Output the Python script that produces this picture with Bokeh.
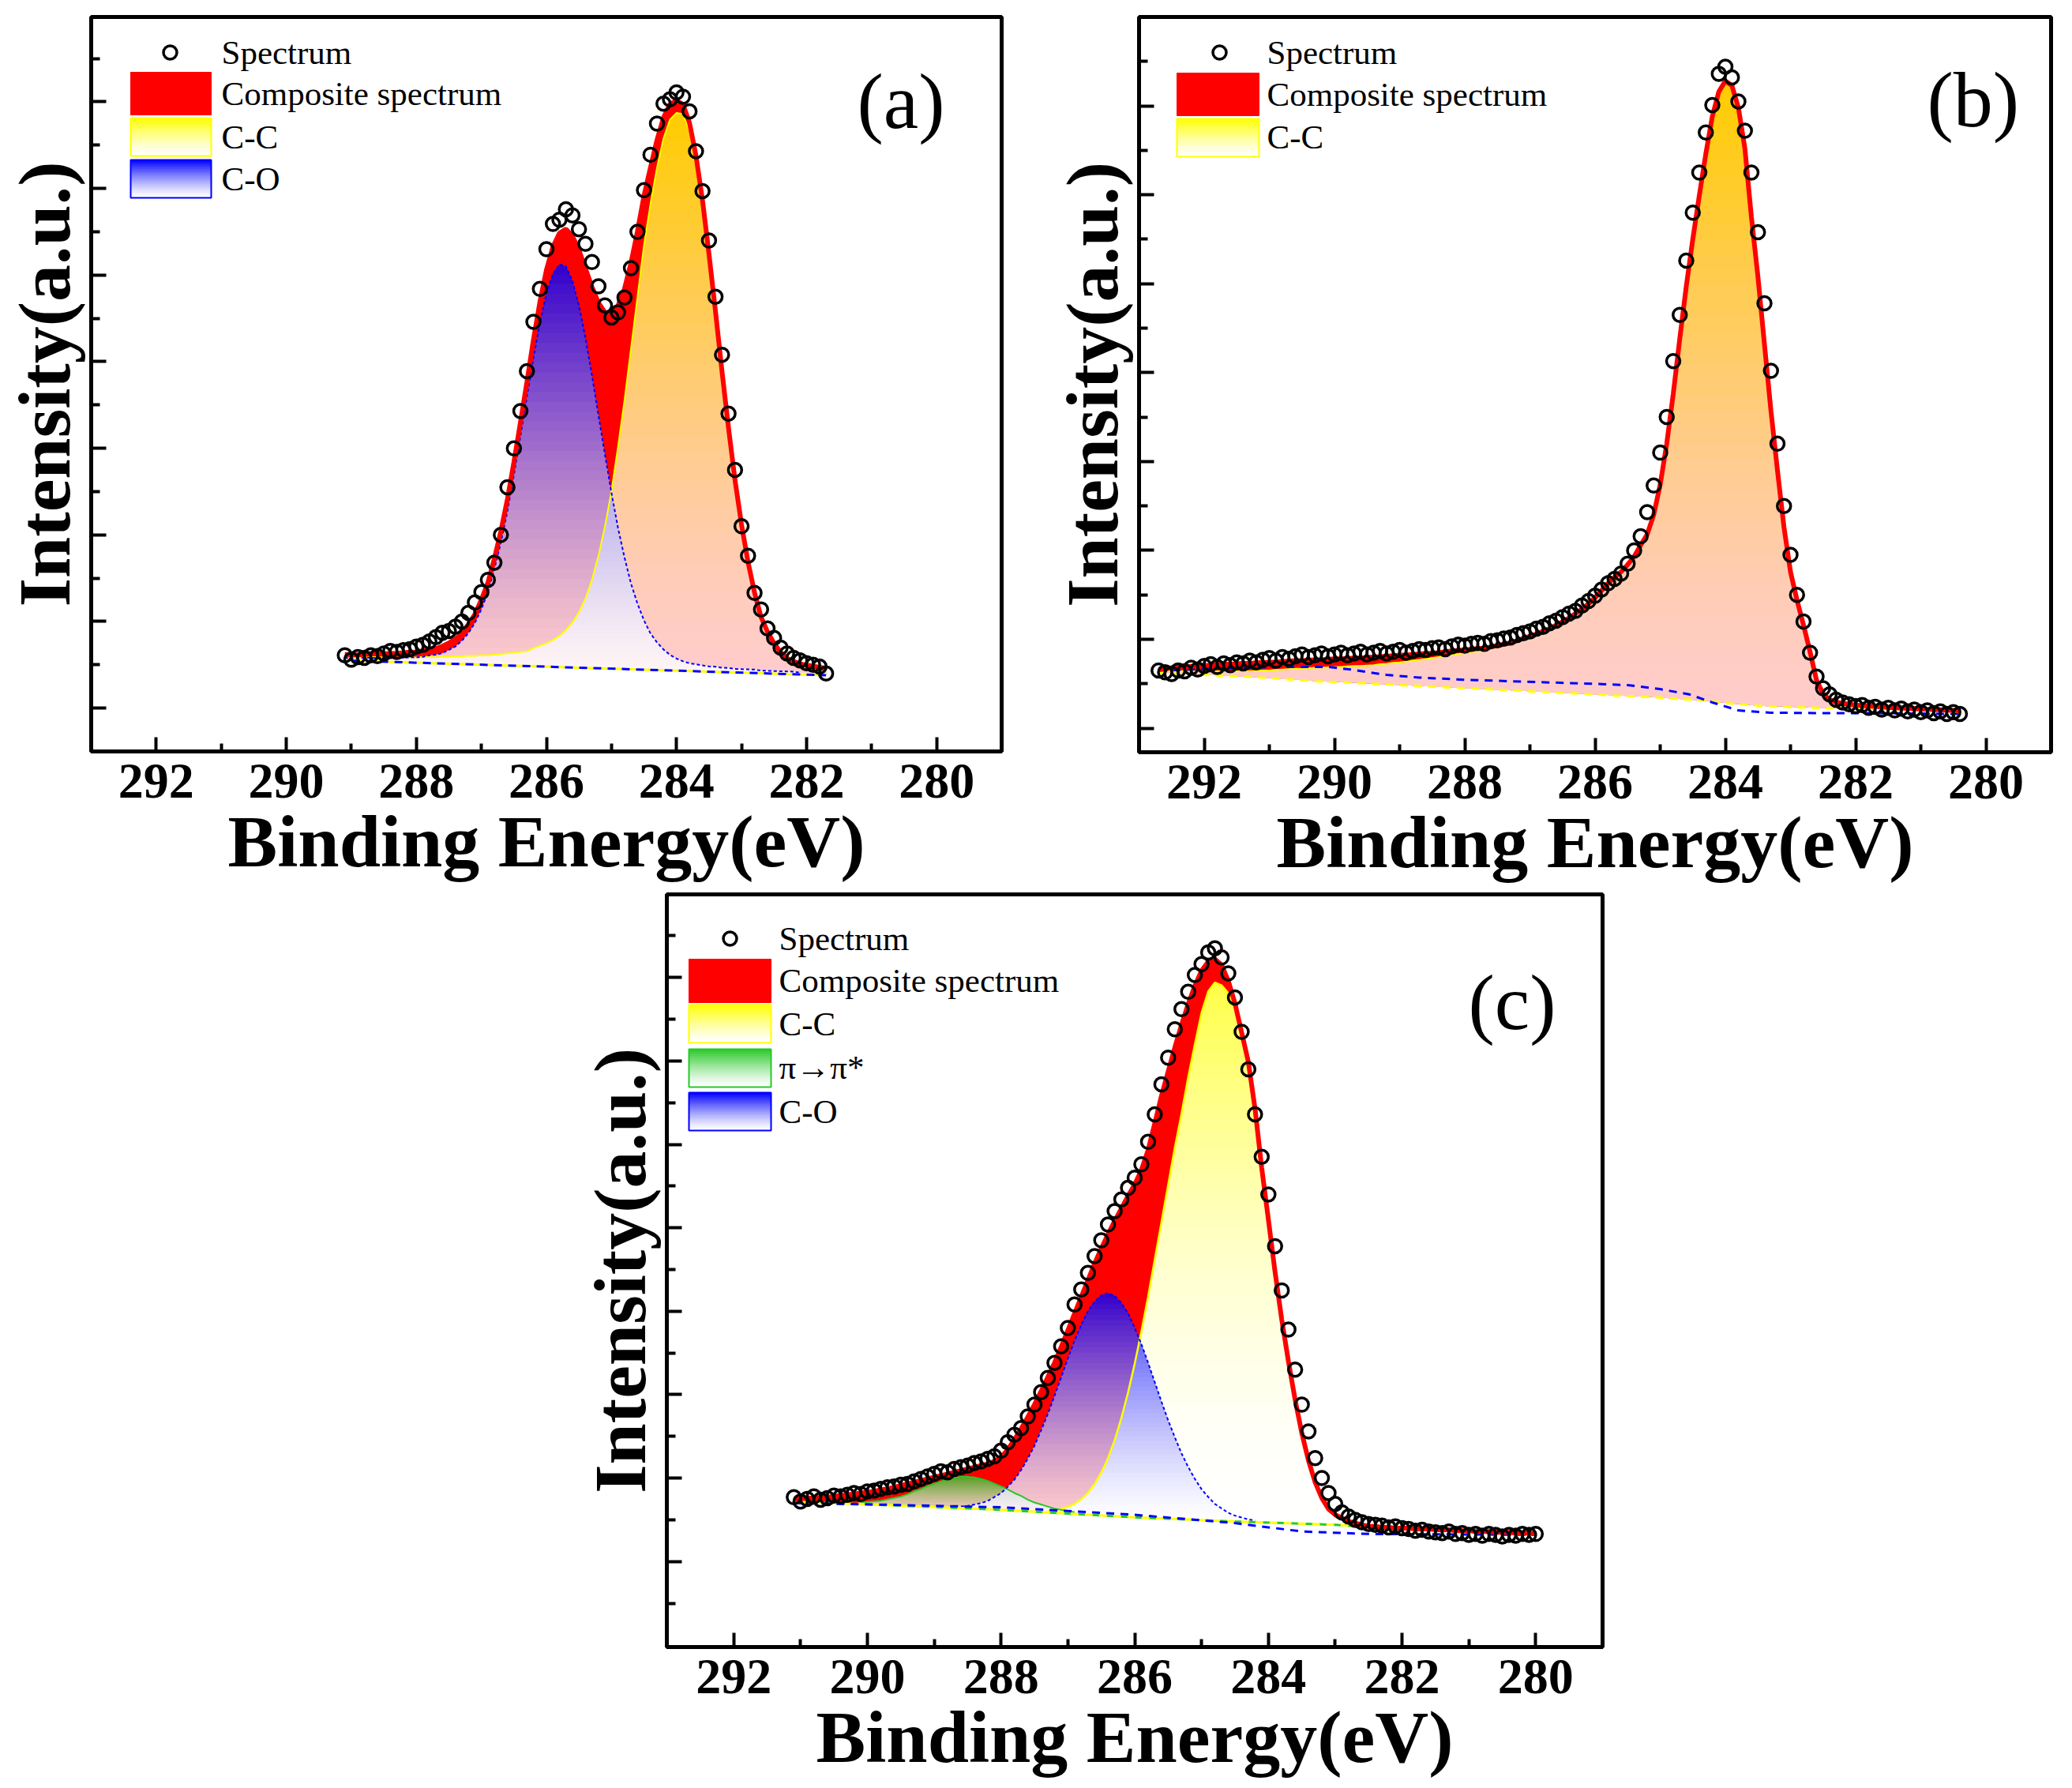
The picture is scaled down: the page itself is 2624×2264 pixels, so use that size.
import numpy as np
from bokeh.plotting import figure
from bokeh.models import Range1d, FixedTicker
from bokeh.layouts import column, row
from bokeh.embed import file_html
from bokeh.resources import INLINE
from bokeh.core.properties import value

FONT = "Liberation Serif"
X_START, X_END = 293.0, 279.0
X_MAJOR = [280, 282, 284, 286, 288, 290, 292]
X_MINOR = [279, 281, 283, 285, 287, 289, 291, 293]
Y_MAJOR = [0, 10, 20, 30, 40, 50, 60, 70]
Y_MINOR = [-5, 5, 15, 25, 35, 45, 55, 65, 75]

# ======================= panel (a) =======================
a_start = 289.1
a_spectrum = [6.1, 5.6, 5.9, 5.8, 6.1, 6.0, 6.3, 6.6, 6.5, 6.7,
              6.8, 7.1, 7.3, 7.7, 8.2, 8.7, 8.9, 9.4, 10.0, 11.0,
              12.2, 13.4, 14.8, 16.8, 20.0, 25.5, 30.0, 34.3, 38.9, 44.6,
              48.4, 53.0, 55.9, 56.4, 57.6, 56.9, 55.3, 53.6, 51.5, 48.7,
              46.5, 45.1, 45.7, 47.4, 50.8, 55.0, 59.8, 63.9, 67.5, 69.8,
              70.3, 71.1, 70.6, 68.9, 64.3, 59.7, 54.0, 47.5, 40.8, 34.0,
              27.5, 21.0, 17.6, 13.3, 11.4, 9.2, 8.1, 7.0, 6.3, 5.8,
              5.5, 5.2, 5.0, 4.8, 4.0]
a_cc = [0.4, 0.4, 0.4, 0.4, 0.5, 0.5, 0.5, 0.5, 0.5, 0.6,
        0.6, 0.6, 0.7, 0.7, 0.7, 0.8, 0.8, 0.85, 0.9, 1.0,
        1.0, 1.1, 1.1, 1.2, 1.3, 1.4, 1.5, 1.6, 1.7, 2.1,
        2.4, 2.7, 3.1, 3.6, 4.3, 5.2, 6.4, 8.0, 10.2, 13.0,
        16.4, 20.5, 25.6, 31.0, 37.0, 43.0, 49.0, 53.8, 58.0, 61.4,
        63.6, 64.4, 64.3, 62.4, 58.7, 53.7, 47.6, 41.0, 34.2, 27.7,
        21.8, 16.7, 12.4, 8.9, 6.2, 4.5, 3.2, 2.2, 1.5, 1.2,
        1.0, 0.9, 0.8, 0.7, 0.6]
a_co = [0.3, 0.3, 0.3, 0.4, 0.4, 0.4, 0.4, 0.5, 0.5, 0.5,
        0.6, 0.6, 0.7, 0.9, 1.0, 1.2, 1.6, 2.0, 2.7, 3.6,
        4.8, 6.4, 8.4, 11.1, 14.2, 17.8, 22.0, 26.5, 31.1, 35.6,
        39.7, 43.1, 45.4, 46.5, 46.3, 44.6, 41.8, 38.1, 33.8, 29.2,
        24.7, 20.3, 16.3, 12.9, 9.9, 7.6, 5.7, 4.2, 3.2, 2.4,
        1.8, 1.4, 1.1, 0.9, 0.8, 0.7, 0.6, 0.6, 0.5, 0.5,
        0.4, 0.4, 0.4, 0.4, 0.3, 0.3, 0.3, 0.3, 0.3, 0.3,
        0.2, 0.2, 0.2, 0.2, 0.2]
a_base_x = [289.1, 281.7]
a_base_y = [5.5, 3.8]
A_Y = (-5.0, 79.8)

# ======================= panel (b) =======================
b_start = 292.7
b_spectrum = [6.5, 6.3, 6.1, 6.5, 6.4, 6.8, 6.6, 7.0, 7.2, 6.9,
              7.3, 7.1, 7.4, 7.3, 7.6, 7.4, 7.7, 7.9, 7.6, 8.0,
              7.8, 8.1, 8.3, 8.0, 8.2, 8.4, 8.1, 8.3, 8.5, 8.2,
              8.4, 8.6, 8.3, 8.5, 8.7, 8.4, 8.6, 8.8, 8.5, 8.7,
              8.9, 8.8, 9.0, 9.1, 8.9, 9.2, 9.4, 9.3, 9.5, 9.6,
              9.5, 9.8, 9.9, 10.1, 10.2, 10.5, 10.7, 10.9, 11.2, 11.4,
              11.8, 12.1, 12.5, 12.9, 13.2, 13.8, 14.3, 14.9, 15.6, 16.3,
              16.8, 17.4, 18.5, 20.0, 21.6, 24.3, 27.3, 31.0, 35.0, 41.3,
              46.5, 52.6, 58.0, 62.5, 67.0, 70.1, 73.6, 74.4, 73.2, 70.5,
              67.2, 62.5, 55.8, 47.8, 40.2, 32.0, 25.0, 19.5, 15.0, 12.0,
              8.5, 5.8, 4.5, 3.8, 3.2, 2.9, 2.7, 2.5, 2.6, 2.3,
              2.4, 2.1, 2.3, 2.0, 2.2, 1.9, 2.1, 1.8, 2.0, 1.7,
              1.9, 1.6, 1.8, 1.6]
b_composite = [6.6, 6.7, 6.8, 6.85, 6.9, 6.95, 7.0, 7.05, 7.1, 7.15,
               7.2, 7.2, 7.25, 7.3, 7.3, 7.35, 7.4, 7.4, 7.45, 7.5,
               7.55, 7.6, 7.6, 7.65, 7.7, 7.7, 7.75, 7.8, 7.8, 7.85,
               7.9, 7.9, 7.95, 8.0, 8.05, 8.1, 8.15, 8.2, 8.25, 8.3,
               8.35, 8.4, 8.45, 8.5, 8.6, 8.7, 8.75, 8.8, 8.9, 8.95,
               9.0, 9.15, 9.3, 9.45, 9.6, 9.85, 10.1, 10.35, 10.6, 10.9,
               11.2, 11.6, 12.0, 12.4, 12.9, 13.4, 14.0, 14.7, 15.5, 16.3,
               17.0, 17.6, 18.4, 19.3, 20.6, 21.8, 24.0, 27.4, 32.0, 37.6,
               43.8, 49.7, 55.0, 59.9, 64.6, 68.8, 71.6, 72.8, 72.3, 69.8,
               65.2, 57.5, 50.8, 43.2, 35.7, 29.0, 22.6, 17.6, 14.4, 11.6,
               8.6, 5.4, 3.9, 3.2, 2.95, 2.8, 2.7, 2.6, 2.55, 2.5,
               2.45, 2.4, 2.35, 2.3, 2.27, 2.23, 2.2, 2.17, 2.13, 2.1,
               2.07, 2.03, 2.0, 1.97]
b_extra = [0.1, 0.2, 0.3, 0.4, 0.5, 0.55, 0.6, 0.7, 0.7, 0.75,
           0.8, 0.8, 0.85, 0.85, 0.9, 0.9, 0.9, 0.9, 0.9, 0.9,
           0.9, 0.9, 0.9, 0.9, 0.9, 0.9, 0.9, 0.9, 0.9, 0.9,
           0.9, 0.9, 0.9, 0.9, 0.85, 0.85, 0.8, 0.8, 0.75, 0.7,
           0.65, 0.6, 0.55, 0.5, 0.45, 0.4, 0.4, 0.35, 0.3, 0.3,
           0.25, 0.2, 0.2, 0.15, 0.15, 0.1, 0.1, 0.05, 0.05, 0.0,
           0.0, 0.0, 0.0]
b_base_cc_x = [292.7, 292.0, 291.1, 290.3, 289.4, 288.55, 287.7, 286.85, 286.0,
               285.15, 284.3, 283.95, 283.45, 282.6, 281.75, 280.4]
b_base_cc_y = [6.2, 6.0, 5.7, 5.3, 5.0, 4.7, 4.4, 4.1, 3.8, 3.5, 3.1, 2.8, 2.5, 2.3, 2.2, 1.9]
b_base2_x = [292.7, 290.8, 290.1, 289.75, 289.2, 288.7, 288.0, 287.35, 286.7, 286.0,
             285.5, 285.0, 284.55, 284.2, 283.8, 283.3, 282.6, 281.7, 280.4]
b_base2_y = [6.5, 6.9, 6.9, 6.6, 6.0, 5.7, 5.45, 5.3, 5.15, 5.0,
             4.85, 4.4, 3.8, 2.9, 2.0, 1.75, 1.7, 1.7, 1.6]
B_Y = (-2.7, 80.0)

# ======================= panel (c) =======================
c_start = 291.1
c_spectrum = [7.7, 7.2, 7.5, 7.8, 7.4, 7.6, 7.9, 7.8, 8.0, 8.2,
              8.1, 8.4, 8.5, 8.7, 8.9, 9.0, 9.2, 9.3, 9.6, 9.9,
              10.2, 10.5, 10.8, 10.7, 11.1, 11.3, 11.5, 11.8, 12.0, 12.3,
              12.6, 13.3, 14.3, 15.2, 16.0, 17.4, 18.8, 20.3, 22.0, 23.8,
              25.8, 28.0, 30.8, 32.6, 34.6, 36.6, 38.5, 40.4, 42.0, 43.4,
              44.8, 46.0, 47.6, 50.3, 53.6, 57.2, 60.4, 63.8, 66.2, 68.3,
              70.3, 71.6, 73.0, 73.5, 72.4, 70.5, 67.6, 63.5, 59.0, 53.6,
              48.5, 44.0, 37.8, 32.5, 27.8, 23.0, 18.8, 15.6, 12.4, 10.0,
              8.2, 6.9, 5.9, 5.4, 5.0, 4.7, 4.5, 4.4, 4.3, 4.1,
              4.2, 4.0, 3.9, 3.7, 3.8, 3.6, 3.5, 3.4, 3.6, 3.3,
              3.4, 3.2, 3.3, 3.1, 3.3, 3.2, 3.0, 3.2, 3.1, 3.3,
              3.2, 3.3]
c_composite = [7.5, 7.5, 7.6, 7.6, 7.7, 7.7, 7.8, 7.9, 8.0, 8.1,
               8.2, 8.3, 8.4, 8.6, 8.7, 8.9, 9.1, 9.3, 9.5, 9.7,
               9.9, 10.1, 10.3, 10.5, 10.7, 10.9, 11.1, 11.3, 11.5, 11.7,
               12.0, 12.5, 13.4, 14.6, 15.9, 17.3, 18.8, 20.4, 22.1, 23.8,
               25.7, 27.7, 29.7, 31.7, 33.7, 35.7, 37.5, 39.2, 40.8, 42.3,
               43.8, 45.2, 46.9, 49.3, 52.5, 55.8, 58.7, 61.6, 64.3, 66.8,
               69.0, 70.8, 71.9, 72.2, 71.5, 69.6, 66.9, 63.4, 59.9, 54.3,
               47.2, 41.0, 34.7, 29.0, 24.0, 19.4, 15.4, 12.1, 9.5, 7.6,
               6.3, 5.6, 5.2, 4.8, 4.6, 4.4, 4.2, 4.2, 4.1, 4.1,
               4.0, 4.0, 4.0, 3.9, 3.9, 3.9, 3.8, 3.8, 3.8, 3.7,
               3.7, 3.7, 3.6, 3.6, 3.6, 3.5, 3.5, 3.5, 3.4, 3.4,
               3.4, 3.3]
c_cc = [0.0] * 37 + [0.1, 0.2, 0.3, 0.5, 0.8, 1.2, 1.8, 2.6, 3.7, 5.1,
                     6.9, 9.1, 11.8, 14.9, 18.4, 22.3, 26.5, 31.0, 35.5, 40.0,
                     44.5, 48.6, 53.0, 57.0, 60.8, 63.4, 64.5, 64.2, 63.3, 61.8,
                     58.6, 54.9, 49.5, 42.6, 36.4, 30.1, 24.4, 19.4, 14.9, 10.9,
                     7.6, 5.0, 3.1, 1.9, 1.2, 0.8, 0.5, 0.3, 0.2, 0.1] + [0.0] * 25
c_pi = [0.0] * 8 + [0.1, 0.1, 0.2, 0.3, 0.4, 0.5, 0.7, 0.9, 1.1, 1.4,
                    1.8, 2.1, 2.5, 2.8, 3.1, 3.4, 3.6, 3.75, 3.8, 3.75,
                    3.6, 3.4, 3.1, 2.8, 2.5, 2.1, 1.8, 1.4, 1.1, 0.9,
                    0.7, 0.5, 0.4, 0.3, 0.2, 0.1, 0.1] + [0.0] * 67
c_co = [0.0] * 23 + [0.1, 0.1, 0.2, 0.3, 0.5, 0.7, 1.0, 1.5, 2.0, 2.8,
                     3.7, 4.9, 6.3, 7.9, 9.8, 11.8, 14.0, 16.3, 18.6, 20.8,
                     22.7, 24.4, 25.6, 26.4, 26.7, 26.4, 25.6, 24.4, 22.7, 20.8,
                     18.6, 16.3, 14.0, 11.8, 9.8, 7.9, 6.3, 4.9, 3.7, 2.8,
                     2.0, 1.5, 1.0, 0.7, 0.5, 0.3, 0.2, 0.1, 0.1] + [0.0] * 40
c_base_x = [291.1, 288.0, 286.0, 284.5, 283.0, 282.6, 280.0]
c_base_y = [7.2, 6.2, 5.3, 4.8, 4.4, 4.2, 3.3]
c_base2_x = [291.1, 289.7, 288.0, 286.0, 284.5, 283.5, 282.5, 280.0]
c_base2_y = [7.0, 6.8, 6.5, 5.6, 4.6, 3.6, 3.3, 3.2]
C_Y = (-10.25, 79.96)

# ======================= helpers =======================
RED = (255, 0, 0)
YELLOW = (255, 255, 0)
BLUE = (0, 0, 255)
GREEN = (40, 200, 40)
WHITE = (255, 255, 255)


def hexc(c):
    return "#%02x%02x%02x" % tuple(int(round(min(255, max(0, v)))) for v in c)


def blend(top, under, a):
    return tuple(a * t + (1 - a) * u for t, u in zip(top, under))


def ramp(rgb, bot, top, gamma=1.3):
    span = max(top - bot, 1e-6)

    def f(y):
        t = min(1.0, max(0.0, (y - bot) / span)) ** gamma
        return tuple(255 * (1 - t) + c * t for c in rgb)
    return f


def energies(start, n):
    return np.round(start - 0.1 * np.arange(n), 1)


def on_grid(kx, ky, x):
    kx = np.asarray(kx, float)
    ky = np.asarray(ky, float)
    o = np.argsort(kx)
    return np.interp(x, kx[o], ky[o])


def dense(x, arrays, step=0.01):
    # subdivide the drawn polylines so that the colour bands follow them exactly
    xa = x[::-1]
    xf = np.arange(xa[0], xa[-1] + step / 2, step)
    return xf, [np.interp(xf, xa, np.asarray(a, float)[::-1]) for a in arrays]


def bands(p, xf, lo, hi, color_of, n=40):
    thick = hi - lo
    m = thick > 1e-6
    if not m.any():
        return
    bot, top = lo[m].min(), hi[m].max()
    edges = np.linspace(bot, top, n + 1)
    eps = 0.6 * (top - bot) / n
    for k in range(n):
        a0, a1 = edges[k], edges[k + 1]
        lower = np.maximum(lo, a0)
        upper = np.maximum(np.minimum(hi, a1 + eps), lower)
        idx = np.nonzero(upper - lower > 1e-6)[0]
        if idx.size == 0:
            continue
        i0, i1 = max(idx[0] - 1, 0), min(idx[-1] + 2, len(xf))
        p.varea(x=xf[i0:i1].tolist(), y1=lower[i0:i1].tolist(), y2=upper[i0:i1].tolist(),
                fill_color=hexc(color_of(0.5 * (a0 + a1))), fill_alpha=1.0)


def outline(p, x, yabs, height, rgb, width, dash="solid"):
    h = np.asarray(height)
    idx = np.nonzero(h > 0.25)[0]
    i0, i1 = max(idx[0] - 1, 0), min(idx[-1] + 2, len(x))
    p.line(x[i0:i1], yabs[i0:i1], line_color=hexc(rgb), line_width=width, line_dash=dash)


def make_panel(yr, fw, fh, borders):
    l, r, t, b = borders
    p = figure(frame_width=fw, frame_height=fh,
               x_range=Range1d(X_START, X_END), y_range=Range1d(*yr),
               output_backend="svg", toolbar_location=None,
               min_border_left=l, min_border_right=r, min_border_top=t, min_border_bottom=b,
               background_fill_color="white", border_fill_color="white")
    p.xgrid.visible = False
    p.ygrid.visible = False
    p.outline_line_color = "black"
    p.outline_line_width = 5
    p.outline_line_alpha = 1.0
    xa, ya = p.xaxis[0], p.yaxis[0]
    xa.ticker = FixedTicker(ticks=X_MAJOR, minor_ticks=X_MINOR)
    ya.ticker = FixedTicker(ticks=Y_MAJOR, minor_ticks=Y_MINOR)
    for ax in (xa, ya):
        ax.axis_line_color = "black"
        ax.axis_line_width = 5
        ax.major_tick_line_color = "black"
        ax.major_tick_line_width = 4
        ax.minor_tick_line_color = "black"
        ax.minor_tick_line_width = 4
        ax.major_tick_out = 0
        ax.minor_tick_out = 0
        ax.axis_label_text_font = FONT
        ax.axis_label_text_font_style = "bold"
        ax.axis_label_text_font_size = "94px"
        ax.axis_label_text_color = "black"
        ax.major_label_text_font = FONT
        ax.major_label_text_font_style = "bold"
        ax.major_label_text_color = "black"
    xa.major_tick_in = 18
    xa.minor_tick_in = 10
    ya.major_tick_in = 19
    ya.minor_tick_in = 11
    xa.major_label_text_font_size = "64px"
    xa.major_label_standoff = 16
    xa.axis_label = "Binding Energy(eV)"
    xa.axis_label_standoff = 0
    ya.major_label_text_font_size = "1px"
    ya.major_label_text_alpha = 0.0
    ya.major_label_standoff = 0
    ya.axis_label = "Intensity(a.u.)"
    ya.axis_label_standoff = 8
    return p


def to_data(geom, dx, dy):
    fw, fh, y0, y1 = geom
    return float(X_START - dx * (X_START - X_END) / fw), float(y1 - dy * (y1 - y0) / fh)


def add_legend(p, geom, circle_at, swatch_x, text_dx, rows):
    cx, cy = to_data(geom, *circle_at)
    p.scatter([cx], [cy], marker="circle", size=17, line_color="black", line_width=3.5, fill_color=None)
    tx, ty, tt = [], [], []
    for label, rgb, dy0, dy1, row_dy in rows:
        if rgb is not None:
            xl, yt = to_data(geom, swatch_x[0], dy0)
            xr, yb = to_data(geom, swatch_x[1], dy1)
            if rgb == RED:
                p.quad(left=[xl], right=[xr], top=[yt], bottom=[yb], fill_color="#ff0000", line_color="#ff0000")
            else:
                m = 16
                hs = np.linspace(yt, yb, m + 1)
                step = (yt - yb) / m
                g = ramp(rgb, 0.0, 1.0)
                for i in range(m):
                    t = 1.0 - (i + 0.5) / m
                    bot = hs[i + 1] - (0.4 * step if i < m - 1 else 0.0)
                    p.quad(left=[xl], right=[xr], top=[float(hs[i])], bottom=[float(bot)],
                           fill_color=hexc(g(t)), line_color=None)
                p.quad(left=[xl], right=[xr], top=[yt], bottom=[yb], fill_color=None,
                       line_color=hexc(rgb), line_width=2)
        x, y = to_data(geom, text_dx, row_dy)
        tx.append(x)
        ty.append(y)
        tt.append(label)
    p.text(x=tx, y=ty, text=tt, text_font=value(FONT), text_font_size=value("43px"),
           text_align=value("left"), text_baseline=value("middle"), text_color="black")


def add_tag(p, geom, dx, dy, s):
    # same text settings as the legend entries, only larger; left edge placed so the letter is centred at dx
    x, y = to_data(geom, dx - 55, dy)
    p.text(x=[x], y=[y], text=[s], text_font=value(FONT), text_font_size=value("100px"),
           text_align=value("left"), text_baseline=value("middle"), text_color="black")


def spectrum(p, x, y):
    p.scatter(x, y, marker="circle", size=17, line_color="black", line_width=3.5, fill_color=None)


# ======================= build (a) =======================
xa_ = energies(a_start, len(a_spectrum))
a_base = on_grid(a_base_x, a_base_y, xa_)
a_cc_abs = a_base + np.asarray(a_cc)
a_co_abs = a_base + np.asarray(a_co)
a_comp = a_base + np.asarray(a_cc) + np.asarray(a_co)

GA = (1153, 930) + A_Y
pa = make_panel(A_Y, 1153, 930, (113, 59, 19, 170))
xf, (bf, ccf, cof, compf) = dense(xa_, [a_base, a_cc_abs, a_co_abs, a_comp])
pa.varea(x=xf, y1=bf, y2=compf, fill_color="#ff0000")
g_cc = ramp(YELLOW, bf.min(), ccf.max())
g_co = ramp(BLUE, bf.min(), cof.max())
cc_col_a = lambda y: blend(g_cc(y), RED, 0.8)
bands(pa, xf, bf, ccf, cc_col_a)
bands(pa, xf, np.maximum(bf, ccf), cof, lambda y: blend(g_co(y), RED, 0.8))
bands(pa, xf, bf, np.minimum(cof, ccf), lambda y: blend(g_co(y), cc_col_a(y), 0.8))
outline(pa, xa_, a_cc_abs, a_cc, YELLOW, 2)
outline(pa, xa_, a_co_abs, a_co, BLUE, 2, "4 3")
pa.line(a_base_x, a_base_y, line_color=hexc(YELLOW), line_width=3, line_dash="10 8")
pa.line(a_base_x, a_base_y, line_color=hexc(BLUE), line_width=3, line_dash="10 8", line_dash_offset=9)
pa.line(xa_, a_comp, line_color="#ff0000", line_width=6)
spectrum(pa, xa_, a_spectrum)
add_legend(pa, GA, (100, 45), (50, 152), 165,
           [("Spectrum", None, 0, 0, 45),
            ("Composite spectrum", RED, 70, 124, 97),
            ("C-C", YELLOW, 128, 176, 152),
            ("C-O", BLUE, 181, 229, 205)])
add_tag(pa, GA, 1025, 107, "(a)")

# ======================= build (b) =======================
xb_ = energies(b_start, len(b_spectrum))
b_comp = np.asarray(b_composite, float)
b_ex = np.zeros(len(xb_))
b_ex[:len(b_extra)] = b_extra
b_cc_abs = b_comp - b_ex
b_base = on_grid(b_base_cc_x, b_base_cc_y, xb_)

GB = (1155, 931) + B_Y
pb = make_panel(B_Y, 1155, 931, (113, 8, 21, 167))
xf, (bf, ccf, compf) = dense(xb_, [b_base, b_cc_abs, b_comp])
pb.varea(x=xf, y1=bf, y2=compf, fill_color="#ff0000")
g_ccb = ramp(YELLOW, bf.min(), ccf.max())
bands(pb, xf, bf, ccf, lambda y: blend(g_ccb(y), RED, 0.8))
pb.line(xb_, b_cc_abs, line_color=hexc(YELLOW), line_width=2)
pb.line(b_base_cc_x, b_base_cc_y, line_color=hexc(YELLOW), line_width=3, line_dash="10 8")
pb.line(b_base2_x, b_base2_y, line_color=hexc(BLUE), line_width=3, line_dash="10 8")
pb.line(xb_, b_comp, line_color="#ff0000", line_width=6)
spectrum(pb, xb_, b_spectrum)
add_legend(pb, GB, (102, 45), (48, 152), 162,
           [("Spectrum", None, 0, 0, 45),
            ("Composite spectrum", RED, 71, 125, 98),
            ("C-C", YELLOW, 129, 177, 152)])
add_tag(pb, GB, 1053, 105, "(b)")

# ======================= build (c) =======================
xc_ = energies(c_start, len(c_spectrum))
c_base = on_grid(c_base_x, c_base_y, xc_)
c_comp = np.asarray(c_composite, float)
c_cc_abs = c_base + np.asarray(c_cc)
c_pi_abs = c_base + np.asarray(c_pi)
c_co_abs = c_base + np.asarray(c_co)

GC = (1185, 953) + C_Y
pc = make_panel(C_Y, 1185, 953, (844, 10, 12, 155))
xf, (bf, ccf, pif, cof, compf) = dense(xc_, [c_base, c_cc_abs, c_pi_abs, c_co_abs, c_comp])
pc.varea(x=xf, y1=ccf, y2=np.maximum(compf, ccf), fill_color="#ff0000")
g_ccc = ramp(YELLOW, bf.min(), ccf.max(), gamma=1.8)
mpi = pif - bf > 0.05
g_pi = ramp(GREEN, bf[mpi].min(), pif.max())
mco = cof - bf > 0.05
g_coc = ramp(BLUE, bf[mco].min(), cof.max())
cc_col_c = lambda y: blend(g_ccc(y), WHITE, 0.72)
pi_col_c = lambda y: blend(g_pi(y), RED, 0.8)
bands(pc, xf, bf, ccf, cc_col_c)
bands(pc, xf, bf, pif, pi_col_c, n=16)
bands(pc, xf, np.maximum(np.maximum(bf, ccf), pif), cof, lambda y: blend(g_coc(y), RED, 0.8))
bands(pc, xf, bf, np.minimum(cof, ccf), lambda y: blend(g_coc(y), cc_col_c(y), 0.8))
bands(pc, xf, np.maximum(bf, ccf), np.minimum(cof, pif), lambda y: blend(g_coc(y), pi_col_c(y), 0.8), n=16)
outline(pc, xc_, c_cc_abs, c_cc, YELLOW, 2.5)
outline(pc, xc_, c_pi_abs, c_pi, GREEN, 2)
outline(pc, xc_, c_co_abs, c_co, BLUE, 2, "4 3")
pc.line(c_base_x, c_base_y, line_color=hexc(GREEN), line_width=3, line_dash="10 8")
pc.line(c_base_x, c_base_y, line_color=hexc(YELLOW), line_width=3, line_dash="10 8", line_dash_offset=9)
pc.line(c_base2_x, c_base2_y, line_color=hexc(BLUE), line_width=3, line_dash="10 8")
pc.line(xc_, c_comp, line_color="#ff0000", line_width=6)
spectrum(pc, xc_, c_spectrum)
add_legend(pc, GC, (80, 56), (28, 132), 142,
           [("Spectrum", None, 0, 0, 56),
            ("Composite spectrum", RED, 82, 137, 109),
            ("C-C", YELLOW, 140, 188, 164),
            ("π→π*", GREEN, 196, 244, 219),
            ("C-O", BLUE, 251, 299, 275)])
add_tag(pc, GC, 1070, 137, "(c)")

layout = column(row(pa, pb), pc)
open("out.html", "w").write(file_html(layout, INLINE, title="C1s XPS"))
